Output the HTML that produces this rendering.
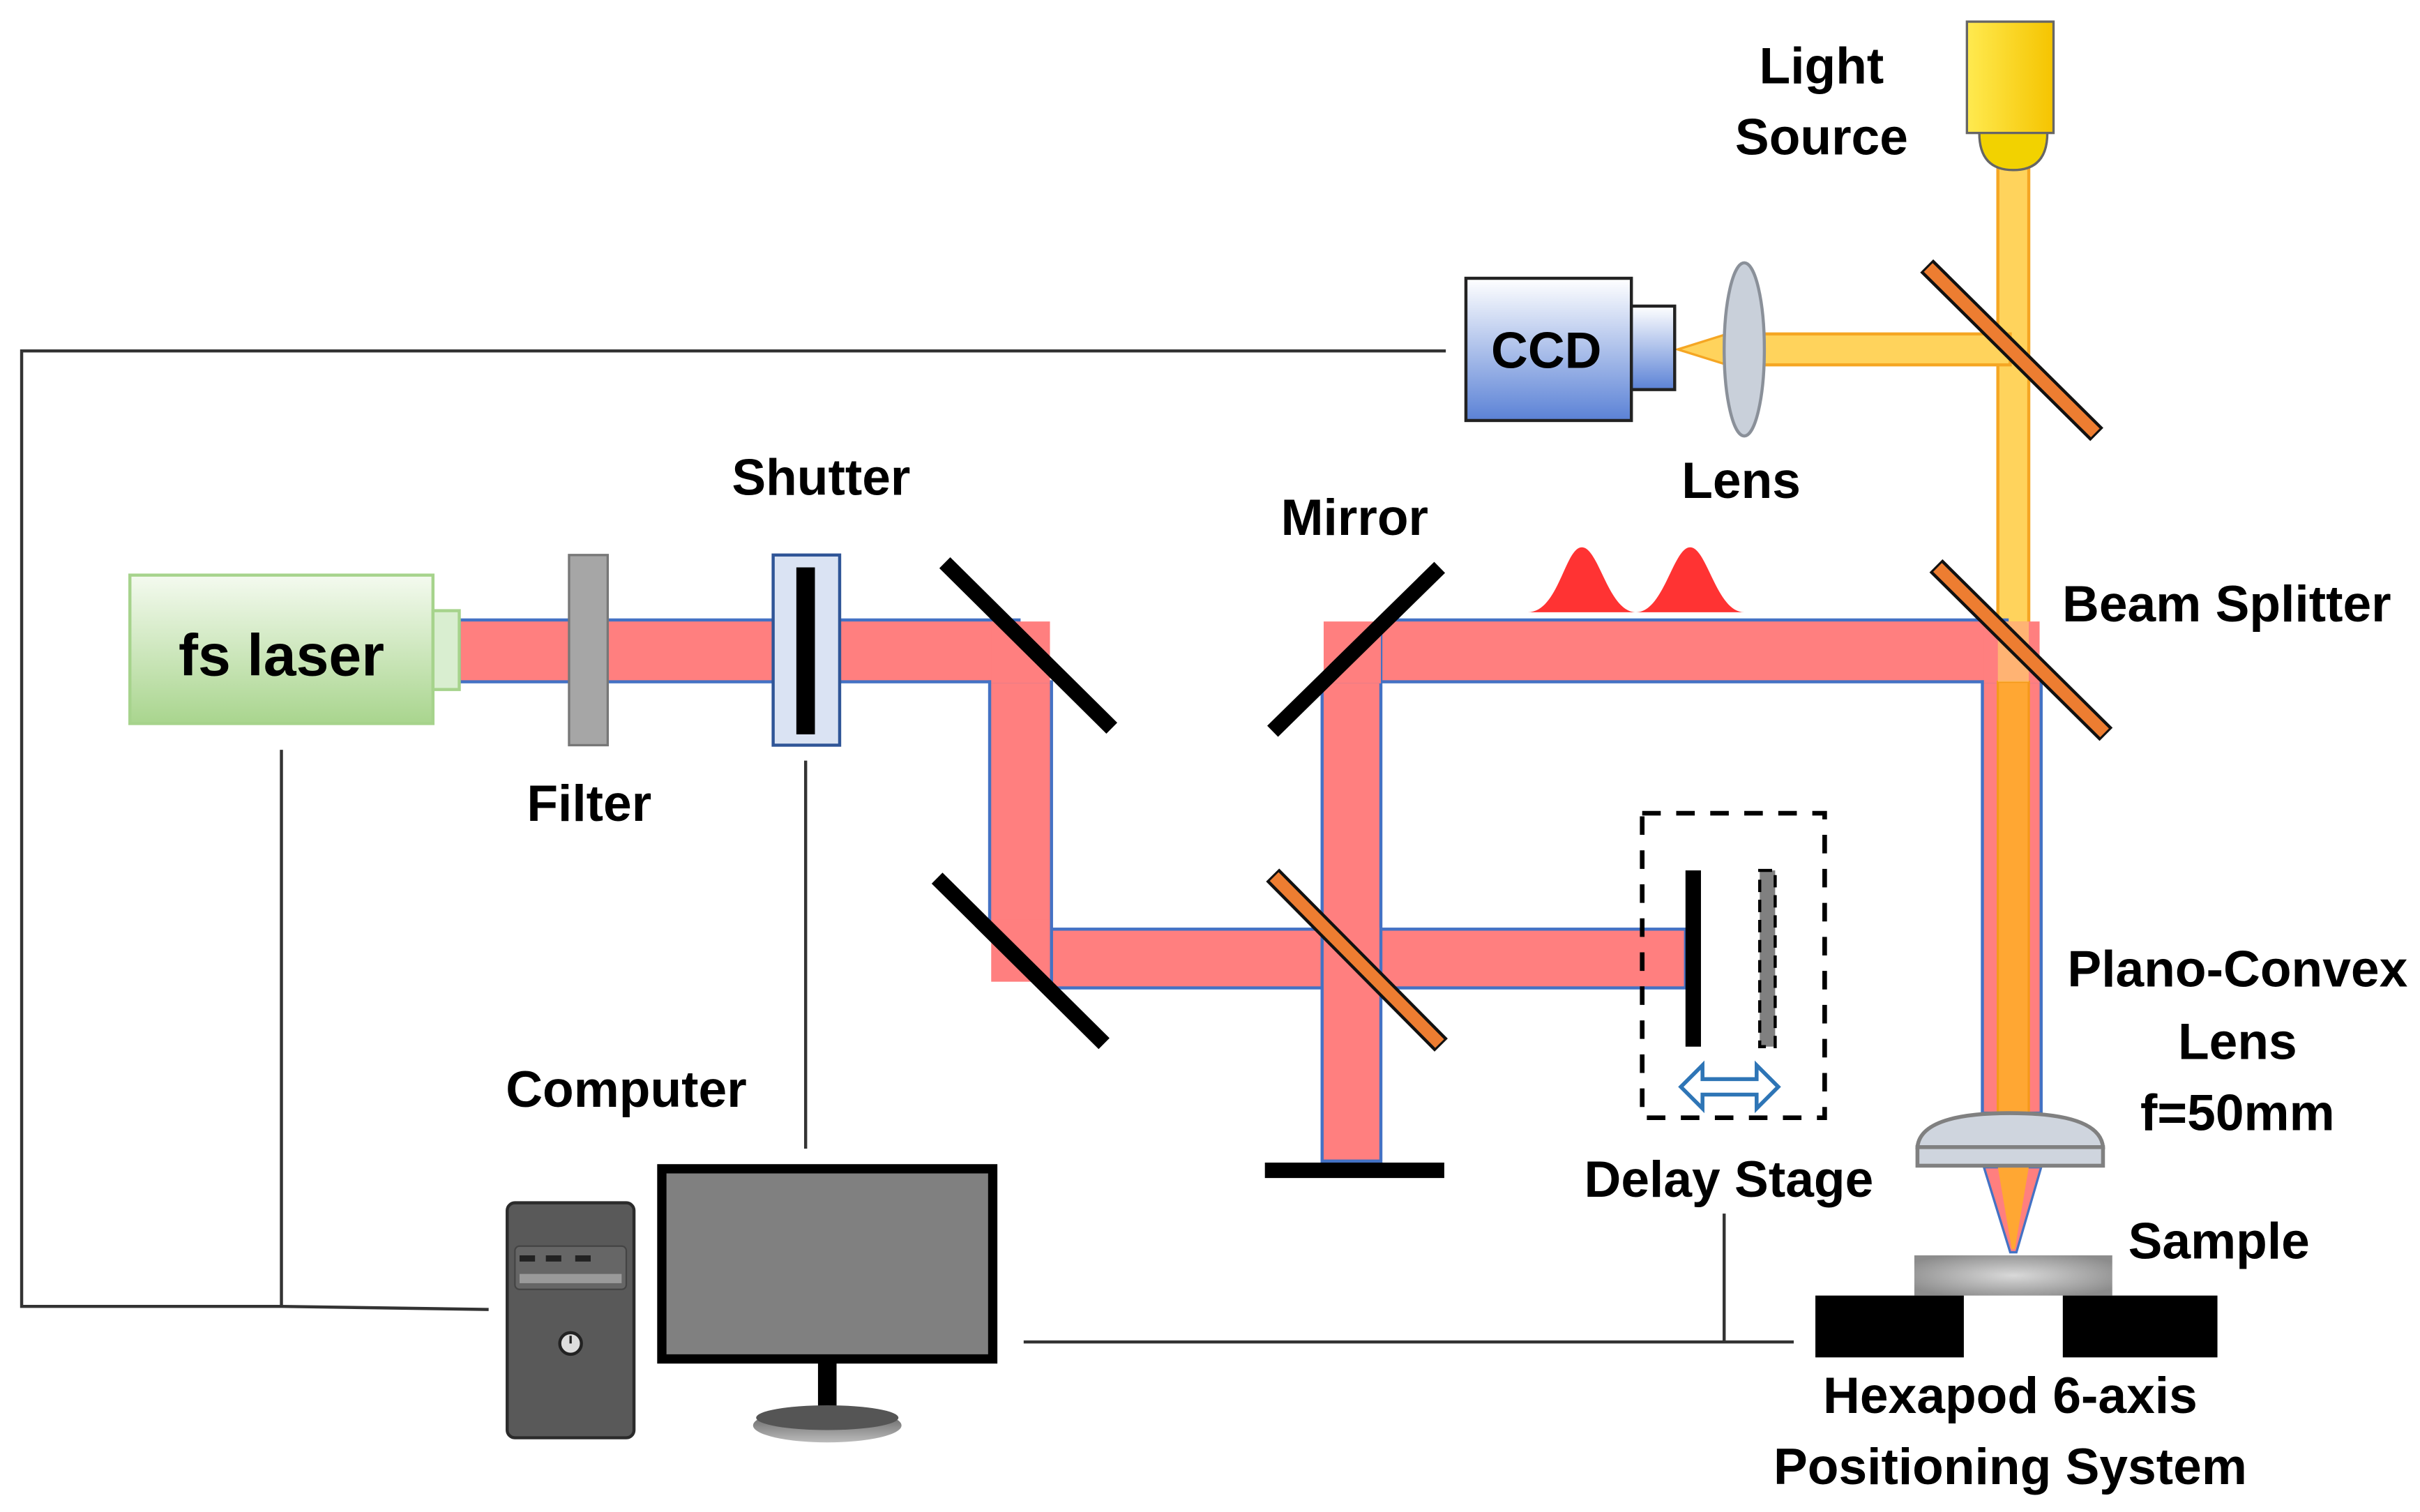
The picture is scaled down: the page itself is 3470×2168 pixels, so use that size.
<!DOCTYPE html>
<html><head><meta charset="utf-8"><style>
html,body{margin:0;padding:0;background:#fff;width:3470px;height:2168px;overflow:hidden}
svg{display:block}
text{font-family:"Liberation Sans",sans-serif;font-weight:bold;fill:#000;font-size:33px;text-anchor:middle}
</style></head><body>
<svg width="3470" height="2168" viewBox="0 0 1565 978" preserveAspectRatio="none" xmlns="http://www.w3.org/2000/svg">
<defs>
<linearGradient id="ys" x1="0" y1="0" x2="1" y2="0"><stop offset="0" stop-color="#FFEA50"/><stop offset="1" stop-color="#F5C400"/></linearGradient>
<linearGradient id="ccd" x1="0" y1="0" x2="0" y2="1"><stop offset="0" stop-color="#FFFFFF"/><stop offset="1" stop-color="#5B82D6"/></linearGradient>
<linearGradient id="las" x1="0" y1="0" x2="0" y2="1"><stop offset="0" stop-color="#F4FAEF"/><stop offset="1" stop-color="#A9D58E"/></linearGradient>
<radialGradient id="samp" cx="0.5" cy="0.5" r="0.6"><stop offset="0" stop-color="#D9D9D9"/><stop offset="1" stop-color="#8C8C8C"/></radialGradient>
<linearGradient id="base" x1="0" y1="0" x2="0" y2="1"><stop offset="0" stop-color="#555"/><stop offset="1" stop-color="#BBB"/></linearGradient>
</defs>

<g stroke="#333" stroke-width="2" fill="none">
<polyline points="935,227 14,227 14,845 182,845 316,847"/>
<line x1="182" y1="485" x2="182" y2="845"/>
<line x1="521" y1="492" x2="521" y2="743"/>
<polyline points="662,868 1160,868"/>
<line x1="1115" y1="785" x2="1115" y2="868"/>
</g>

<rect x="1292" y="108" width="20" height="340" fill="#FFD35C" stroke="#F5A623" stroke-width="2"/>
<rect x="1140" y="216" width="160" height="20" fill="#FFD35C" stroke="#F5A623" stroke-width="2"/>
<polygon points="1117,216 1085,226 1117,236" fill="#FFD35C" stroke="#F5A623" stroke-width="1.5"/>

<g fill="#FF7F7F" stroke="#4472C4" stroke-width="2">
<rect x="297" y="401" width="362" height="40"/>
<rect x="640" y="441" width="40" height="160"/>
<rect x="680" y="601" width="410" height="38"/>
<rect x="855" y="441" width="38" height="310"/>
<rect x="893" y="401" width="405" height="40"/>
<rect x="1282" y="441" width="38" height="279"/>
</g>
<g fill="#FF7F7F" stroke="none">
<rect x="641" y="402" width="38" height="40"/>
<rect x="641" y="595" width="38" height="40"/>
<rect x="856" y="402" width="37" height="40"/>
<rect x="856" y="600" width="36" height="38"/>
<rect x="1283" y="402" width="36" height="40"/>
</g>
<rect x="1292" y="441" width="20" height="279" fill="#FFA733" stroke="#F59A1A" stroke-width="1.5"/>
<rect x="1292" y="402" width="20" height="39" fill="#FFC070" opacity="0.8"/>

<polygon points="1283,755 1320,755 1304,810 1300,810" fill="#FF7F7F" stroke="#4472C4" stroke-width="1.5"/>
<polygon points="1292,755 1312,755 1303,808 1301,808" fill="#FFA733"/>

<rect x="1272" y="14" width="56" height="72" fill="url(#ys)" stroke="#666" stroke-width="1.5"/>
<path d="M1280,86 L1324,86 Q1324,110 1302,110 Q1280,110 1280,86 Z" fill="#F2D200" stroke="#666" stroke-width="1.5"/>

<rect x="948" y="180" width="107" height="92" fill="url(#ccd)" stroke="#222" stroke-width="2"/>
<rect x="1055" y="198" width="28" height="54" fill="url(#ccd)" stroke="#222" stroke-width="2"/>
<text x="1000" y="238" style="font-size:33px">CCD</text>
<ellipse cx="1128" cy="226" rx="13" ry="56" fill="#C9D0DA" stroke="#8A9099" stroke-width="2"/>

<g stroke="#111" stroke-width="12" stroke-linecap="butt">
<line x1="1246" y1="172" x2="1356" y2="281"/>
<line x1="1252" y1="366" x2="1362" y2="475"/>
<line x1="823" y1="566" x2="932" y2="676"/>
</g>
<g stroke="#ED7D31" stroke-width="8">
<line x1="1247" y1="173" x2="1355" y2="280"/>
<line x1="1253" y1="367" x2="1361" y2="474"/>
<line x1="824" y1="567" x2="931" y2="675"/>
</g>

<g stroke="#000" stroke-width="10">
<line x1="611" y1="364" x2="719" y2="471"/>
<line x1="606" y1="568" x2="714" y2="675"/>
<line x1="931" y1="367" x2="823" y2="473"/>
<line x1="818" y1="757" x2="934" y2="757"/>
</g>

<path d="M988,396 C1008,396 1012,354 1023,354 C1034,354 1040,396 1058,396 C1076,396 1082,354 1093,354 C1104,354 1110,396 1128,396 Z" fill="#FF3333"/>

<rect x="84" y="372" width="196" height="96" fill="url(#las)" stroke="#A6D38C" stroke-width="2"/>
<rect x="280" y="395" width="17" height="51" fill="#D9EED0" stroke="#A6D38C" stroke-width="2"/>
<text x="182" y="437" style="font-size:38px">fs laser</text>

<rect x="368" y="359" width="25" height="123" fill="#A6A6A6" stroke="#777" stroke-width="1.5"/>
<rect x="500" y="359" width="43" height="123" fill="#DAE3F3" stroke="#2F5597" stroke-width="2"/>
<rect x="515" y="367" width="12" height="108" fill="#000"/>

<rect x="1062" y="526" width="118" height="197" fill="none" stroke="#000" stroke-width="3" stroke-dasharray="12,10"/>
<rect x="1090" y="563" width="10" height="114" fill="#000"/>
<rect x="1138" y="563" width="10" height="114" fill="#808080" stroke="#000" stroke-width="2" stroke-dasharray="8,5"/>
<path d="M1087,703 L1101,689 L1101,698 L1136,698 L1136,689 L1150,703 L1136,717 L1136,708 L1101,708 L1101,717 Z" fill="#fff" stroke="#2E75B6" stroke-width="2.5"/>

<path d="M1240,742 Q1242,720 1300,720 Q1358,720 1360,742 Z" fill="#CFD5DE" stroke="#808080" stroke-width="2.5"/>
<rect x="1240" y="742" width="120" height="12" fill="#CFD5DE" stroke="#808080" stroke-width="2.5"/>

<rect x="1238" y="812" width="128" height="26" fill="url(#samp)"/>
<rect x="1174" y="838" width="96" height="40" fill="#000"/>
<rect x="1334" y="838" width="100" height="40" fill="#000"/>

<rect x="328" y="778" width="82" height="152" rx="5" fill="#595959" stroke="#2b2b2b" stroke-width="2"/>
<rect x="333" y="806" width="72" height="28" rx="3" fill="#666" stroke="#444" stroke-width="1"/>
<rect x="336" y="812" width="10" height="4" fill="#222"/><rect x="353" y="812" width="10" height="4" fill="#222"/><rect x="372" y="812" width="10" height="4" fill="#222"/>
<rect x="336" y="824" width="66" height="6" fill="#9a9a9a"/>
<circle cx="369" cy="869" r="7" fill="#ddd" stroke="#222" stroke-width="2"/>
<line x1="369" y1="864" x2="369" y2="869" stroke="#222" stroke-width="1.5"/>
<rect x="428" y="756" width="214" height="123" fill="#808080" stroke="#000" stroke-width="6"/>
<rect x="529" y="880" width="12" height="34" fill="#000"/>
<ellipse cx="535" cy="922" rx="48" ry="11" fill="url(#base)"/>
<ellipse cx="535" cy="917" rx="46" ry="8" fill="#555"/>

<text x="1178" y="54">Light</text>
<text x="1178" y="100">Source</text>
<text x="1126" y="322">Lens</text>
<text x="876" y="346">Mirror</text>
<text x="531" y="320">Shutter</text>
<text x="381" y="531">Filter</text>
<text x="1440" y="402">Beam Splitter</text>
<text x="1447" y="638">Plano-Convex</text>
<text x="1447" y="685">Lens</text>
<text x="1447" y="731">f=50mm</text>
<text x="1118" y="774">Delay Stage</text>
<text x="1435" y="814">Sample</text>
<text x="405" y="716">Computer</text>
<text x="1300" y="914">Hexapod 6-axis</text>
<text x="1300" y="960">Positioning System</text>
</svg>
</body></html>
